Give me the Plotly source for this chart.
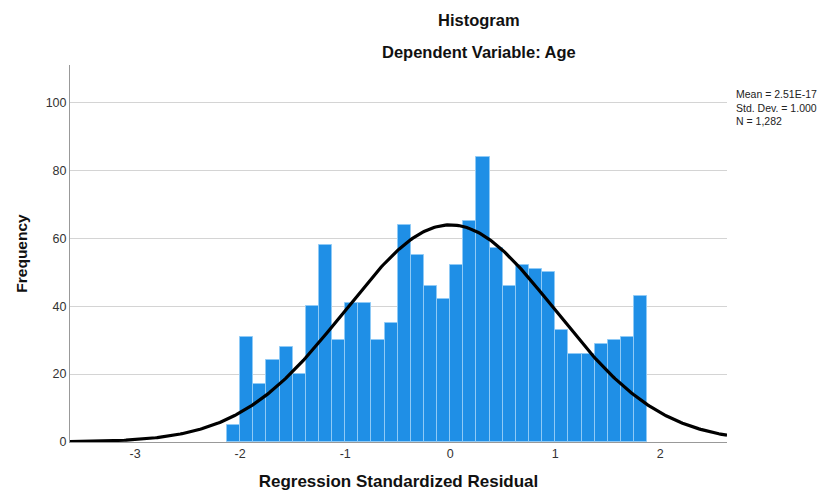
import numpy as np
import plotly.graph_objects as go

# Histogram data
counts = [5, 31, 17, 24, 28, 20, 40, 58, 30, 41, 41, 30, 35, 64, 55, 46,
          42, 52, 65, 84, 57, 46, 52, 51, 50, 33, 26, 26, 29, 30, 31, 43]
bin_start = -2.125
bin_width = 0.125
mean_val = 2.51e-17
sd_val = 1.000
n_val = 1282
x_ticks = [-3, -2, -1, 0, 1, 2]
y_ticks = [0, 20, 40, 60, 80, 100]
stats_lines = ["Mean = 2.51E-17", "Std. Dev. = 1.000", "N = 1,282"]

x_range = [-3.62, 2.635]
y_range = [0, 111]

centers = [bin_start + bin_width * (i + 0.5) for i in range(len(counts))]

# Fitted normal curve
xs = np.linspace(x_range[0], x_range[1], 400)
ys = n_val * bin_width * np.exp(-0.5 * ((xs - mean_val) / sd_val) ** 2) / (sd_val * np.sqrt(2 * np.pi))

fig = go.Figure()
fig.add_trace(go.Bar(
    x=centers, y=counts, width=bin_width,
    marker=dict(color="#1f8fe6", line=dict(color="#8fcaf6", width=1)),
    hoverinfo="x+y", showlegend=False,
))
fig.add_trace(go.Scatter(
    x=xs, y=ys, mode="lines", line=dict(color="black", width=3.2),
    showlegend=False, hoverinfo="skip",
))

font_family = "Liberation Sans, Arial, sans-serif"

# page body adds an 8px offset; plot area targets x 70..727, y 65..442
fig.update_layout(
    width=823, height=483,
    margin=dict(l=62, r=104, t=57, b=49),
    paper_bgcolor="white", plot_bgcolor="white",
    font=dict(family=font_family, size=12, color="#333333"),
    bargap=0,
    xaxis=dict(
        range=x_range, tickvals=x_ticks, ticktext=[str(v) for v in x_ticks],
        automargin=False,
        showgrid=False, zeroline=False, showline=True, linecolor="#999999", linewidth=1,
        ticks="", tickfont=dict(size=12.5, color="#333333"),
        title=dict(text="<b>Regression Standardized Residual</b>",
                   font=dict(size=17, color="#111111"), standoff=15),
    ),
    yaxis=dict(
        range=y_range, tickvals=y_ticks,
        automargin=False,
        showgrid=True, gridcolor="#d4d4d4", gridwidth=1,
        zeroline=False, showline=True, linecolor="#999999", linewidth=1,
        ticks="", tickfont=dict(size=12.5, color="#333333"),
        title=dict(text="<b>Frequency</b>", font=dict(size=15.5, color="#111111"), standoff=14),
    ),
)

fig.add_annotation(text="<b>Histogram</b>", xref="paper", yref="paper",
                   x=0.6225, y=(442 - 20) / 377, xanchor="center", yanchor="middle",
                   showarrow=False, font=dict(size=16.5, color="#111111", family=font_family))
fig.add_annotation(text="<b>Dependent Variable: Age</b>", xref="paper", yref="paper",
                   x=0.6225, y=(442 - 52) / 377, xanchor="center", yanchor="middle",
                   showarrow=False, font=dict(size=16.5, color="#111111", family=font_family))

fig.add_annotation(text="<br>".join(stats_lines), xref="paper", yref="paper",
                   x=(734 - 70) / 657, y=(442 - 86) / 377,
                   xanchor="left", yanchor="top", align="left", showarrow=False,
                   font=dict(size=10.5, color="#222222", family=font_family))

fig.write_html("out.html")
